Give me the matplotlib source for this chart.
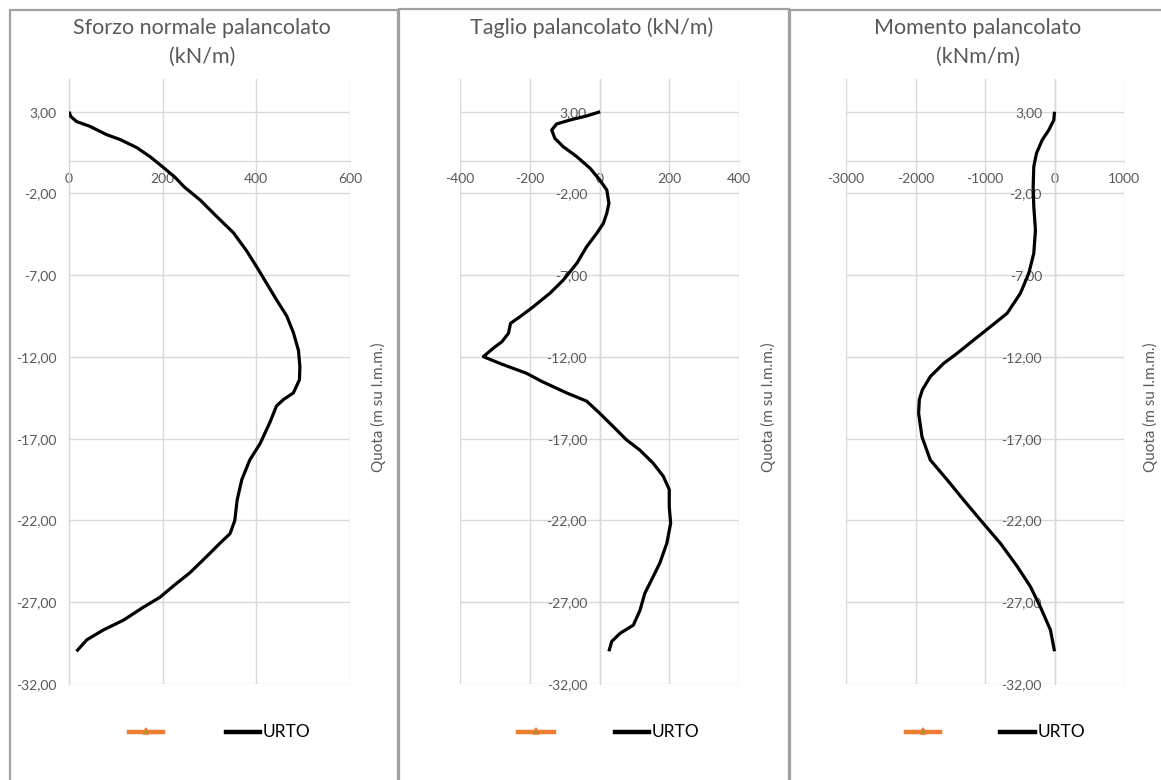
import numpy as np
import matplotlib
matplotlib.use("Agg")
import matplotlib.pyplot as plt
from matplotlib.lines import Line2D
from matplotlib.patches import Rectangle
from matplotlib.ticker import FuncFormatter

plt.rcParams['font.family'] = ['Lato', 'DejaVu Sans']

# --- Sforzo normale (kN/m) vs quota (m s.l.m.m.) ---
quota_n = [3.0, 2.7, 2.4, 2.1, 1.6, 1.3, 0.8, 0.25, -0.4, -1.0, -1.6, -2.4, -3.4, -4.4,
           -5.5, -6.5, -7.5, -8.5, -9.5, -10.5, -11.6, -12.6, -13.4, -14.2, -14.6, -15.0,
           -16.0, -17.3, -18.3, -19.5, -20.75, -22.0, -22.8, -23.4, -24.2, -25.2, -26.0,
           -26.7, -27.3, -28.1, -28.7, -29.3, -30.0]
sforzo_n = [0, 4, 16, 45, 80, 109, 145, 173, 201, 226, 246, 280, 315, 351,
            379, 401, 422, 443, 465, 479, 490, 493, 492, 479, 458, 443,
            429, 408, 386, 369, 359, 354, 344, 322, 294, 258, 223,
            194, 159, 116, 73, 38, 16]

# --- Taglio (kN/m) ---
quota_t = [3.0, 2.74, 2.49, 2.25, 1.88, 1.37, 0.86, 0.25, -0.46, -1.18, -1.79, -2.6, -3.2,
           -3.83, -4.44, -5.26, -6.27, -7.3, -8.1, -8.93, -9.54, -9.94, -10.55, -11.07,
           -11.47, -11.98, -12.4, -13.0, -13.5, -14.2, -14.7, -15.45, -16.27, -17.08,
           -17.7, -18.5, -19.3, -20.1, -21.16, -22.17, -23.4, -24.6, -25.6, -26.45,
           -27.5, -28.4, -28.9, -29.4, -30.0]
taglio = [2, -37, -85, -123, -137, -128, -104, -65, -27, 1, 21, 27, 21,
          11, -8, -37, -65, -104, -142, -190, -228, -255, -261, -280,
          -305, -333, -285, -209, -165, -94, -37, 1, 40, 78,
          116, 154, 183, 200, 200, 204, 193, 173, 150, 130,
          116, 97, 59, 35, 27]

# --- Momento (kNm/m) ---
quota_m = [3.0, 2.49, 1.88, 1.27, 0.46, -0.36, -1.59, -2.8, -4.24, -5.66, -6.88, -8.1,
           -9.33, -10.15, -10.96, -11.78, -12.39, -13.2, -14.0, -14.6, -15.45, -16.88,
           -18.3, -19.5, -20.75, -21.97, -23.4, -24.8, -26.05, -27.3, -28.7, -30.0]
momento = [0, -10, -82, -177, -259, -298, -307, -298, -274, -298, -370, -490,
           -682, -922, -1162, -1402, -1594, -1787, -1900, -1945, -1955, -1907,
           -1787, -1547, -1307, -1066, -778, -538, -346, -202, -58, 0]

titles = [["Sforzo normale palancolato", "(kN/m)"],
          ["Taglio palancolato (kN/m)"],
          ["Momento palancolato", "(kNm/m)"]]
xticks = [[0, 200, 400, 600],
          [-400, -200, 0, 200, 400],
          [-3000, -2000, -1000, 0, 1000]]
yticks = [3, -2, -7, -12, -17, -22, -27, -32]
series_label = "URTO"

W, H = 1161, 780
fig = plt.figure(figsize=(W / 100, H / 100), dpi=100)
fig.patch.set_facecolor("white")


def fx(px):
    return px / W


def fy(py):
    return 1 - py / H


GRID = "#d9d9d9"
TXT = "#595959"

# chart frames
frames = [(10, 10, 398), (399, 9, 789), (790, 10, 1175)]
for x0, y0, x1 in frames:
    fig.add_artist(Rectangle((fx(x0), fy(800)), fx(x1) - fx(x0), fy(y0) - fy(800),
                             transform=fig.transFigure, fill=False,
                             edgecolor="#a0a0a0", linewidth=1.6))

# plot-area extents in pixels (left, right)
areas = [(69, 350), (460, 739), (846, 1124)]
top_px, bot_px = 79, 684
data = [(sforzo_n, quota_n), (taglio, quota_t), (momento, quota_m)]
title_x = [202, 592, 978]
ylabel_x = [378, 768, 1150]
legend_x = [(129, 163, 226, 260), (518, 554, 615, 649), (906, 940, 1000, 1035)]

for i in range(3):
    l, r = areas[i]
    ax = fig.add_axes([fx(l), fy(bot_px), fx(r) - fx(l), fy(top_px) - fy(bot_px)])
    xv, yv = data[i]
    ax.plot(xv, yv, color="black", linewidth=2.3, solid_capstyle="butt",
            solid_joinstyle="round", zorder=3)
    ax.set_xlim(xticks[i][0], xticks[i][-1])
    ax.set_ylim(-32, 5)
    ax.set_xticks(xticks[i])
    ax.set_yticks(yticks)
    ax.grid(True, color=GRID, linewidth=1.0, zorder=0)
    ax.set_axisbelow(True)
    for s in ("top", "right"):
        ax.spines[s].set_visible(False)
    ax.spines["left"].set_position(("data", 0))
    ax.spines["bottom"].set_position(("data", 0))
    ax.spines["left"].set_color(GRID)
    ax.spines["bottom"].set_color(GRID)
    ax.spines["left"].set_linewidth(1.0)
    ax.spines["bottom"].set_linewidth(1.0)
    ax.tick_params(axis="both", length=0, labelsize=10, labelcolor=TXT)
    ax.tick_params(axis="y", pad=9)
    ax.tick_params(axis="x", pad=9)
    ax.yaxis.set_major_formatter(FuncFormatter(lambda v, p: f"{v:.2f}".replace(".", ",")))
    ax.xaxis.set_major_formatter(FuncFormatter(lambda v, p: f"{v:.0f}"))
    ax.set_facecolor("none")

    for k, line in enumerate(titles[i]):
        fig.text(fx(title_x[i]), fy(28 + 29 * k), line, ha="center", va="center",
                 fontsize=15.5, color=TXT)
    fig.text(fx(ylabel_x[i]), fy(407), "Quota (m su l.m.m.)", rotation=90,
             ha="center", va="center", fontsize=11, color=TXT)

    ox0, ox1, bx0, bx1 = legend_x[i]
    fig.add_artist(Line2D([fx(ox0), fx(ox1)], [fy(732), fy(732)], transform=fig.transFigure,
                          color="#ed7d31", linewidth=3.2))
    fig.add_artist(Line2D([fx((ox0 + ox1) / 2)], [fy(731)], transform=fig.transFigure,
                          marker="^", markersize=5, markerfacecolor="#70ad47",
                          markeredgecolor="#ed7d31", markeredgewidth=1.2, linestyle="none"))
    fig.add_artist(Line2D([fx(bx0), fx(bx1)], [fy(732), fy(732)], transform=fig.transFigure,
                          color="black", linewidth=3.2))
    fig.text(fx(bx1 + 3), fy(732), series_label, ha="left", va="center",
             fontsize=12.5, color="black")

fig.savefig("out.png", dpi=100)
